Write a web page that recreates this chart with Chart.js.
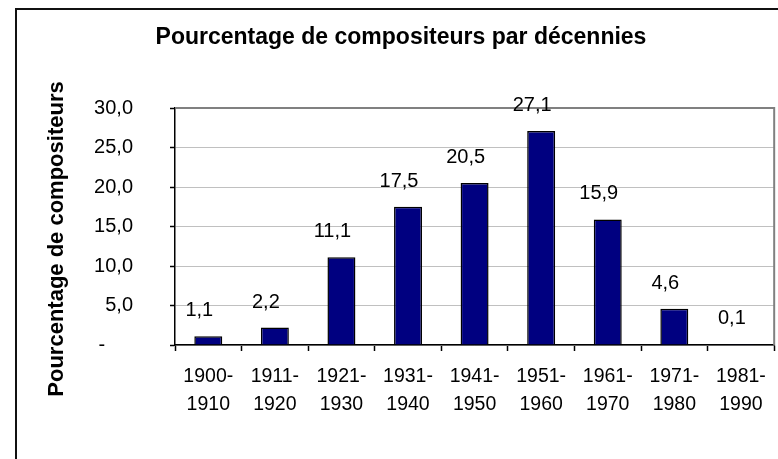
<!DOCTYPE html>
<html>
<head>
<meta charset="utf-8">
<script src="https://cdn.jsdelivr.net/npm/chart.js@4"></script>
<style>
    body { margin: 0; background: #fff; }
    canvas { display: block; }
</style>
</head>
<body>
<canvas id="decChart" width="778" height="459"></canvas>
<script>
const periodes = [
    ['1900-', '1910'], ['1911-', '1920'], ['1921-', '1930'],
    ['1931-', '1940'], ['1941-', '1950'], ['1951-', '1960'],
    ['1961-', '1970'], ['1971-', '1980'], ['1981-', '1990']
];
const pourcentages = [1.1, 2.2, 11.1, 17.5, 20.5, 27.1, 15.9, 4.6, 0.1];
const titre = 'Pourcentage de compositeurs par décennies';
const titreAxeY = 'Pourcentage de compositeurs';

const police = "'Liberation Sans', Arial, sans-serif";

// format à la française, zéro affiché comme un tiret
function virgule(v) {
    return v.toFixed(1).replace('.', ',');
}

const cadre = {
    id: 'cadre',
    beforeDraw(chart) {
        const c = chart.ctx;
        c.save();
        c.fillStyle = '#fff';
        c.fillRect(0, 0, chart.width, chart.height);
        c.strokeStyle = '#111';
        c.lineWidth = 2;
        c.beginPath();
        c.moveTo(16, chart.height);
        c.lineTo(16, 9);
        c.lineTo(chart.width, 9);
        c.stroke();
        c.restore();
    },
    afterDraw(chart) {
        const c = chart.ctx;
        const a = chart.chartArea;
        c.save();
        // bord de la zone de traçage
        c.strokeStyle = '#808080';
        c.lineWidth = 2;
        c.beginPath();
        c.moveTo(a.left + 1, a.top);
        c.lineTo(a.right, a.top);
        c.lineTo(a.right, a.bottom);
        c.stroke();

        // titre de l'axe Y
        c.fillStyle = '#000';
        c.font = 'bold 22px ' + police;
        c.textAlign = 'center';
        c.textBaseline = 'alphabetic';
        c.translate(63, 239);
        c.rotate(-Math.PI / 2);
        c.fillText(titreAxeY, 0, 0);
        c.restore();

        // étiquettes de données
        c.save();
        c.fillStyle = '#000';
        c.font = '20px ' + police;
        c.textAlign = 'center';
        c.textBaseline = 'alphabetic';
        chart.getDatasetMeta(0).data.forEach((bar, i) => {
            c.fillText(virgule(pourcentages[i]), bar.x - 9, bar.y - 20);
        });
        c.restore();
    }
};

const ctx = document.getElementById('decChart').getContext('2d');

const chart = new Chart(ctx, {
    type: 'bar',
    data: {
        labels: periodes,
        datasets: [{
            data: pourcentages,
            backgroundColor: '#000080',
            borderColor: '#000',
            borderWidth: 1.5,
            barPercentage: 0.42,
            categoryPercentage: 1
        }]
    },
    options: {
        responsive: false,
        animation: false,
        devicePixelRatio: 1,
        layout: {
            padding: { left: 27, right: 3, top: 0, bottom: 0 }
        },
        plugins: {
            legend: { display: false },
            tooltip: { enabled: false },
            title: {
                display: true,
                text: titre,
                color: '#000',
                font: { family: police, size: 23, weight: 'bold', lineHeight: 1.2 },
                padding: { top: 24, bottom: 56.4 }
            }
        },
        scales: {
            x: {
                offset: true,
                afterFit: s => { s.height = 114; },
                grid: {
                    offset: true,
                    drawOnChartArea: false,
                    drawTicks: true,
                    tickLength: 6,
                    tickColor: '#000',
                    tickWidth: 1.5
                },
                border: { color: '#000', width: 1.5 },
                ticks: {
                    color: '#000',
                    padding: 12,
                    maxRotation: 0,
                    autoSkip: false,
                    font: { family: police, size: 19.5, lineHeight: 1.42 }
                }
            },
            y: {
                min: 0,
                max: 30,
                afterFit: s => { s.width = 148; },
                grid: {
                    color: '#c0c0c0',
                    lineWidth: 1,
                    tickColor: '#000',
                    tickLength: 5,
                    tickWidth: 1.5
                },
                border: { color: '#000', width: 1.5 },
                ticks: {
                    stepSize: 5,
                    color: '#000',
                    padding: 37,
                    font: { family: police, size: 20 },
                    callback: v => v === 0 ? '-     ' : virgule(v)
                }
            }
        }
    },
    plugins: [cadre]
});
</script>
</body>
</html>
